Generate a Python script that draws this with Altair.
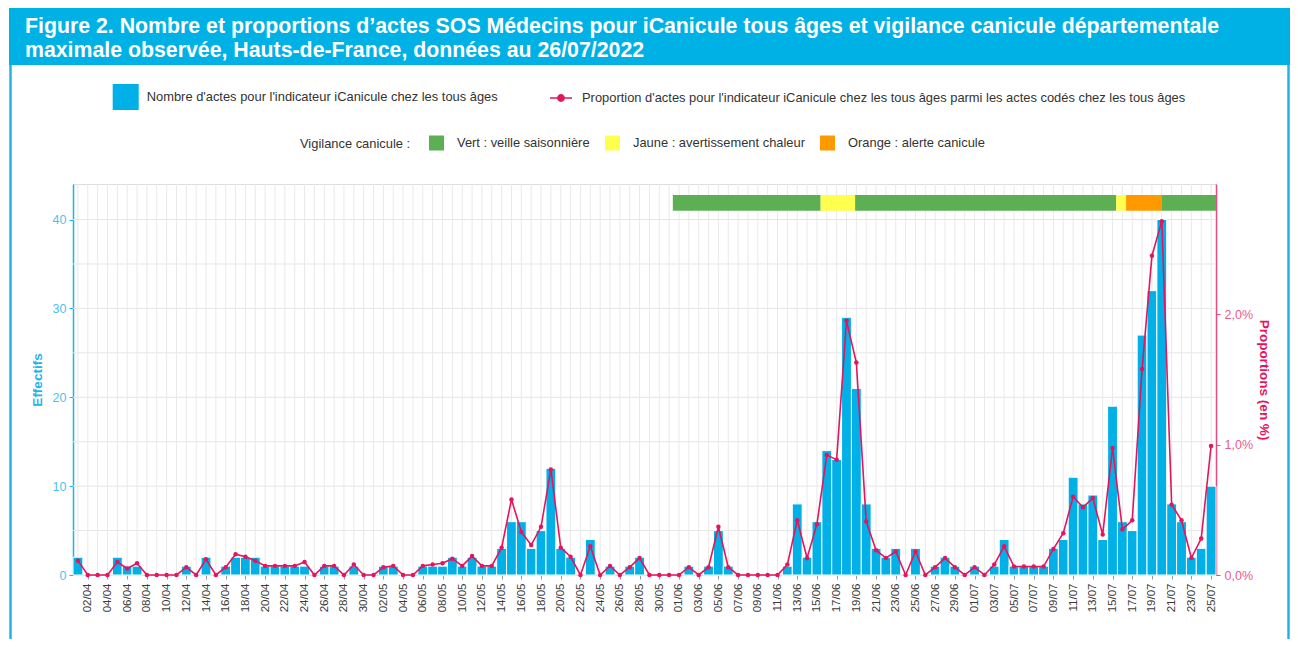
import altair as alt
import pandas as pd

FONT = "Liberation Sans"
BLUE = "#00b0e6"
PINK = "#e3155f"

# ---------------- data ----------------
first_day = "2022-04-01"
n_days = 116

counts = [2, 0, 0, 0, 2, 1, 1, 0, 0, 0, 0, 1, 0, 2, 0, 1, 2, 2, 2, 1,
          1, 1, 1, 1, 0, 1, 1, 0, 1, 0, 0, 1, 1, 0, 0, 1, 1, 1, 2, 1,
          2, 1, 1, 3, 6, 6, 3, 5, 12, 3, 2, 0, 4, 0, 1, 0, 1, 2, 0, 0,
          0, 0, 1, 0, 1, 5, 1, 0, 0, 0, 0, 0, 1, 8, 2, 6, 14, 13, 29, 21,
          8, 3, 2, 3, 0, 3, 0, 1, 2, 1, 0, 1, 0, 1, 4, 1, 1, 1, 1, 3,
          4, 11, 8, 9, 4, 19, 6, 5, 27, 32, 40, 8, 6, 2, 3, 10]

props = [0.11, 0, 0, 0, 0.10, 0.05, 0.09, 0, 0, 0, 0, 0.06, 0, 0.12, 0, 0.06, 0.16, 0.14, 0.11, 0.07,
         0.07, 0.07, 0.07, 0.10, 0, 0.07, 0.07, 0, 0.08, 0, 0, 0.06, 0.07, 0, 0, 0.07, 0.08, 0.09, 0.125, 0.07,
         0.145, 0.07, 0.07, 0.21, 0.58, 0.33, 0.23, 0.37, 0.81, 0.21, 0.14, 0, 0.22, 0, 0.07, 0, 0.06, 0.13, 0, 0,
         0, 0, 0.06, 0, 0.06, 0.37, 0.06, 0, 0, 0, 0, 0, 0.08, 0.42, 0.13, 0.39, 0.92, 0.885, 1.95, 1.63,
         0.41, 0.19, 0.13, 0.18, 0, 0.18, 0, 0.06, 0.13, 0.06, 0, 0.06, 0, 0.08, 0.22, 0.065, 0.065, 0.065, 0.065, 0.20,
         0.32, 0.60, 0.52, 0.59, 0.31, 0.975, 0.35, 0.42, 1.58, 2.45, 2.715, 0.54, 0.42, 0.13, 0.28, 0.99]

bar_label = "Nombre d'actes pour l'indicateur iCanicule chez les tous âges"
line_label = "Proportion d'actes pour l'indicateur iCanicule chez les tous âges parmi les actes codés chez les tous âges"

vig_levels = ["Vert : veille saisonnière", "Jaune : avertissement chaleur", "Orange : alerte canicule"]
vig_colors = ["#5caf53", "#ffff4d", "#ff9900"]
vig_start = ["2022-05-31T21:00", "2022-06-15T21:00", "2022-06-19T09:00",
             "2022-07-15T21:00", "2022-07-16T21:00", "2022-07-20T11:00"]
vig_end = ["2022-06-15T21:00", "2022-06-19T09:00", "2022-07-15T21:00",
           "2022-07-16T21:00", "2022-07-20T11:00", "2022-07-26T00:00"]
vig_level = [vig_levels[0], vig_levels[1], vig_levels[0], vig_levels[1], vig_levels[2], vig_levels[0]]

left_ticks = [0, 10, 20, 30, 40]
left_grid = [0, 5, 10, 15, 20, 25, 30, 35, 40]
right_ticks = [0, 1, 2]

title_lines = ["Figure 2. Nombre et proportions d’actes SOS Médecins pour iCanicule tous âges et vigilance canicule départementale",
               "maximale observée, Hauts-de-France, données au 26/07/2022"]

# ---------------- tables ----------------
DAY = 86400000


def ms(ts):
    return int(pd.Timestamp(ts).value // 10**6)


days = pd.date_range(first_day, periods=n_days, freq="D")
day_ms = [ms(d) for d in days]
df = pd.DataFrame({
    "start": day_ms,
    "end": [d + DAY for d in day_ms],
    "mid": [d + DAY // 2 for d in day_ms],
    "n": counts,
    "p": props,
    "s_bar": bar_label,
    "s_line": line_label,
})
vig_df = pd.DataFrame({"a": [ms(t) for t in vig_start], "b": [ms(t) for t in vig_end], "niveau": vig_level})
grid_x_df = pd.DataFrame({"mid": df["mid"]})
grid_y_df = pd.DataFrame({"g": left_grid})
one = pd.DataFrame({"k": [0]})

x_scale = alt.Scale(type="utc", domain=[day_ms[0], day_ms[-1] + DAY])
x_axis = alt.Axis(values=[m for i, m in enumerate(df["mid"]) if i % 2 == 1],
                  labelExpr="utcFormat(datum.value, '%d/%m')", labelAngle=270,
                  labelFont=FONT, labelFontSize=11.5, labelColor="#3a3a3a", labelPadding=4,
                  tickSize=4, tickColor="#999999", domain=False, grid=False, title=None)

left_scale = alt.Scale(domain=[0, 44], nice=False, zero=True)
left_axis = alt.Axis(orient="left", values=left_ticks, grid=False, format="d",
                     domainColor="#1fb4e8", domainWidth=1.5, tickColor="#1fb4e8", tickSize=4,
                     labelColor="#4cc2ee", labelFont=FONT, labelFontSize=12.5, labelPadding=3,
                     title="Effectifs", titleColor="#1fb4e8", titleFont=FONT, titleFontSize=13.5,
                     titleFontWeight="bold", titlePadding=8)
right_scale = alt.Scale(domain=[0, 3], nice=False, zero=True)
right_axis = alt.Axis(orient="right", values=right_ticks, grid=False,
                      labelExpr="replace(format(datum.value, '.1f'), '.', ',') + '%'",
                      domainColor="#e84a80", domainWidth=1.5, tickColor="#e84a80", tickSize=4,
                      labelColor="#ea5a8c", labelFont=FONT, labelFontSize=12.5, labelPadding=4,
                      title="Proportions (en %)", titleColor=PINK, titleFont=FONT, titleFontSize=13.5,
                      titleFontWeight="bold", titlePadding=4)

# ---------------- left group ----------------
hgrid = alt.Chart(grid_y_df).mark_rule(color="#e6e6e6", strokeWidth=1).encode(
    y=alt.Y("g:Q", scale=left_scale, axis=left_axis))
vgrid = alt.Chart(grid_x_df).mark_rule(color="#e9e9e9", strokeWidth=1).encode(
    x=alt.X("mid:T", scale=x_scale, axis=x_axis))
bars = alt.Chart(df).transform_filter("datum.n > 0").mark_rect(stroke="white", strokeWidth=1).encode(
    x=alt.X("start:T", scale=x_scale, axis=x_axis),
    x2="end:T",
    y=alt.Y("n:Q", scale=left_scale, axis=left_axis),
    y2=alt.Y2(datum=0),
    color=alt.Color("s_bar:N", scale=alt.Scale(domain=[bar_label], range=[BLUE]),
                    legend=alt.Legend(orient="none", legendX=39.7, legendY=-100, title=None,
                                      symbolType="square", symbolSize=676, symbolStrokeWidth=0,
                                      symbolOpacity=1, labelFont=FONT, labelFontSize=12.9,
                                      labelColor="#333333", labelOffset=8, padding=0,
                                      labelLimit=0)))
vig = alt.Chart(vig_df).mark_rect().encode(
    x=alt.X("a:T", scale=x_scale, axis=x_axis),
    x2="b:T",
    y=alt.Y(datum=41.0, type="quantitative", scale=left_scale, axis=left_axis),
    y2=alt.Y2(datum=42.75),
    fill=alt.Fill("niveau:N", scale=alt.Scale(domain=vig_levels, range=vig_colors),
                  legend=alt.Legend(orient="none", legendX=227, legendY=-48.5, direction="horizontal",
                                    title="Vigilance canicule :", titleOrient="left", titlePadding=18,
                                    titleFont=FONT, titleFontSize=12.9, titleFontWeight="normal",
                                    titleColor="#333333", titleBaseline="middle",
                                    symbolType="square", symbolSize=225, symbolStrokeWidth=0,
                                    labelFont=FONT, labelFontSize=12.9, labelColor="#333333",
                                    labelOffset=13, columnPadding=15, padding=0, labelLimit=0)))
left = alt.layer(hgrid, vgrid, bars, vig)

# ---------------- right group ----------------
line = alt.Chart(df).mark_line(strokeWidth=1.6).encode(
    x=alt.X("mid:T", scale=x_scale, axis=x_axis),
    y=alt.Y("p:Q", scale=right_scale, axis=right_axis),
    stroke=alt.Stroke("s_line:N", scale=alt.Scale(domain=[line_label], range=[PINK]),
                      legend=alt.Legend(orient="none", legendX=476, legendY=-98, title=None,
                                        symbolType="M-1,0L1,0M-0.28,0A0.28,0.28,0,1,1,0.28,0A0.28,0.28,0,1,1,-0.28,0Z",
                                        symbolSize=484, symbolStrokeWidth=1.6, symbolFillColor=PINK,
                                        labelFont=FONT, labelFontSize=12.9, labelColor="#333333",
                                        labelOffset=9, padding=0, labelLimit=0)))
pts = alt.Chart(df).mark_circle(size=20, opacity=1, color=PINK).encode(
    x=alt.X("mid:T", scale=x_scale, axis=x_axis),
    y=alt.Y("p:Q", scale=right_scale, axis=right_axis))
right = alt.layer(line, pts)

# ---------------- decorations ----------------
banner = alt.Chart(one).mark_rect(color="#00b1e6").encode(
    x=alt.value(-64), x2=alt.value(1217), y=alt.value(-176), y2=alt.value(-119))
t1 = alt.Chart(one).mark_text(text=title_lines[0], align="left", baseline="alphabetic", font=FONT,
                              fontSize=21.3, fontWeight="bold", color="white").encode(
    x=alt.value(-48), y=alt.value(-151))
t2 = alt.Chart(one).mark_text(text=title_lines[1], align="left", baseline="alphabetic", font=FONT,
                              fontSize=21.3, fontWeight="bold", color="white").encode(
    x=alt.value(-48), y=alt.value(-127.5))
frame_l = alt.Chart(one).mark_rule(color="#1fb4e8", strokeWidth=2.5).encode(
    x=alt.value(-62.5), y=alt.value(-119), y2=alt.value(460))
frame_r = alt.Chart(one).mark_rule(color="#1fb4e8", strokeWidth=2.5).encode(
    x=alt.value(1215.5), y=alt.value(-119), y2=alt.value(460))

chart = alt.layer(banner, t1, t2, frame_l, frame_r, left, right).resolve_scale(
    y="independent").properties(
    width=1143, height=391,
    autosize=alt.AutoSizeParams(type="none"),
    padding={"left": 65, "top": 176, "right": 74, "bottom": 64},
).configure_view(stroke=None).configure(font=FONT)

chart.save("out.html", embed_options={"renderer": "svg", "actions": False})
